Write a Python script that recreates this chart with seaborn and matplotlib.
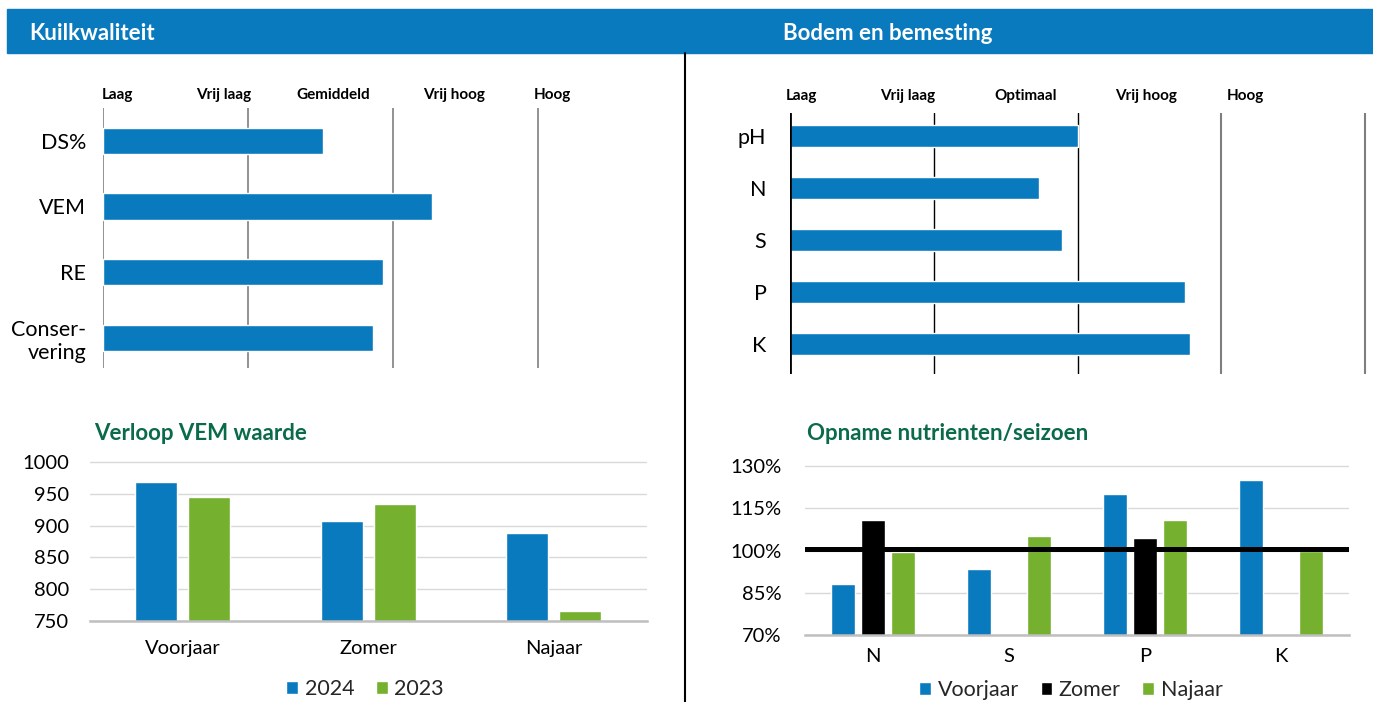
import numpy as np
import pandas as pd
import matplotlib
matplotlib.use("Agg")
import matplotlib.pyplot as plt
import matplotlib.transforms as mtransforms
from matplotlib.patches import Rectangle
from matplotlib.lines import Line2D
import seaborn as sns

# Kuilkwaliteit (score op klassenschaal, 0 = Laag ... 3 = Vrij hoog)
kuil_labels = ["DS%", "VEM", "RE", "Conser-\nvering"]
kuil_scores = [1.52, 2.27, 1.93, 1.86]
kuil_klassen = ["Laag", "Vrij laag", "Gemiddeld", "Vrij hoog", "Hoog"]

# Bodem en bemesting
bodem_labels = ["pH", "N", "S", "P", "K"]
bodem_scores = [2.0, 1.73, 1.89, 2.75, 2.78]
bodem_klassen = ["Laag", "Vrij laag", "Optimaal", "Vrij hoog", "Hoog"]

# Verloop VEM waarde
seizoenen = ["Voorjaar", "Zomer", "Najaar"]
jaren = ["2024", "2023"]
vem_2024 = [968, 907, 889]
vem_2023 = [945, 934, 765]
vem_ticks = [750, 800, 850, 900, 950, 1000]

# Opname nutrienten/seizoen (%)
nutrienten = ["N", "S", "P", "K"]
opname_seizoenen = ["Voorjaar", "Zomer", "Najaar"]
opname_voorjaar = [88.2, 93.5, 119.9, 125.0]
opname_zomer = [110.7, np.nan, 104.4, np.nan]
opname_najaar = [99.4, 105.1, 110.7, 100.0]
opname_norm = 100.5
opname_ticks = [70, 85, 100, 115, 130]

BLAUW = "#0A7ABF"
GROEN = "#76B02F"
DONKERGROEN = "#0B6A4B"
GRIJS = "#7F7F7F"

sns.set_theme(style="white")
plt.rcParams["font.family"] = ["Lato", "DejaVu Sans"]

W, H = 1373, 702
fig = plt.figure(figsize=(W / 100, H / 100), dpi=100)


def px_axes(left, top, right, bottom):
    # assen plaatsen in pixels van de afbeelding
    return fig.add_axes([left / W, 1 - bottom / H, (right - left) / W, (bottom - top) / H])


def klassen_boven(ax, klassen, posities, y_px):
    trans = mtransforms.blended_transform_factory(ax.transData, fig.transFigure)
    for k, p in zip(klassen, posities):
        ax.text(p, 1 - y_px / H, k, transform=trans, ha="center", va="center",
                fontsize=11, fontweight="bold", color="black")


# kopbalk
fig.add_artist(Rectangle((7 / W, 1 - 53 / H), (W - 7) / W, 44 / H,
                         transform=fig.transFigure, color=BLAUW, zorder=0))
fig.text(29 / W, 1 - 33 / H, "Kuilkwaliteit", color="white", fontsize=16,
         fontweight="bold", va="center", ha="left")
fig.text(783 / W, 1 - 33 / H, "Bodem en bemesting", color="white", fontsize=16,
         fontweight="bold", va="center", ha="left")
fig.add_artist(Line2D([685 / W, 685 / W], [0, 1 - 53 / H], color="black", lw=1.5))

# --- Kuilkwaliteit ---
ax1 = px_axes(103, 108, 103 + 3.5 * 145, 368)
for i in range(4):
    ax1.axvline(i, color=GRIJS, lw=1.2, zorder=0)
sns.barplot(x=kuil_scores, y=kuil_labels, orient="h", color=BLAUW, saturation=1,
            width=0.4, ax=ax1)
ax1.set_xlim(0, 3.5)
ax1.set_ylim(3.46, -0.5)
ax1.set_xticks([])
ax1.set_xlabel("")
ax1.set_ylabel("")
for s in ax1.spines.values():
    s.set_visible(False)
ax1.tick_params(axis="y", length=0, pad=12, labelsize=15.5, labelcolor="black")
klassen_boven(ax1, kuil_klassen, [0.1, 0.83, 1.59, 2.42, 3.1], 95)

# --- Bodem en bemesting ---
ax2 = px_axes(790, 113, 790 + 4.03 * 143.75, 374)
lijn_kleur = ["black", "black", "black", GRIJS, GRIJS]
lijn_dikte = [2.0, 1.0, 1.0, 1.5, 1.5]
lijn_z = [3, 0, 0, 0, 0]
for i in range(5):
    ax2.axvline(i, color=lijn_kleur[i], lw=lijn_dikte[i], zorder=lijn_z[i])
sns.barplot(x=bodem_scores, y=bodem_labels, orient="h", color=BLAUW, saturation=1,
            width=0.42, ax=ax2)
ax2.set_xlim(0, 4.03)
ax2.set_ylim(4.57, -0.44)
ax2.set_xticks([])
ax2.set_xlabel("")
ax2.set_ylabel("")
for s in ax2.spines.values():
    s.set_visible(False)
ax2.tick_params(axis="y", length=0, pad=17, labelsize=15.5, labelcolor="black")
klassen_boven(ax2, bodem_klassen, [0.08, 0.82, 1.64, 2.48, 3.17], 96)

# --- Verloop VEM waarde ---
vem_df = pd.DataFrame({
    "Seizoen": seizoenen * 2,
    "Jaar": [jaren[0]] * 3 + [jaren[1]] * 3,
    "VEM": vem_2024 + vem_2023,
})
ax3 = px_axes(89.6, 460.1, 646.7, 621)
sns.barplot(data=vem_df, x="Seizoen", y="VEM", hue="Jaar", hue_order=jaren,
            palette=[BLAUW, GROEN], saturation=1, width=0.57, gap=0.21,
            errorbar=None, ax=ax3)
ax3.set_ylim(750, 1003)
ax3.set_xlim(-0.5, 2.5)
ax3.set_yticks(vem_ticks)
ax3.grid(axis="y", color="#D9D9D9", lw=1)
ax3.set_axisbelow(True)
for s in ["top", "left", "right"]:
    ax3.spines[s].set_visible(False)
ax3.spines["bottom"].set_color("#BFBFBF")
ax3.spines["bottom"].set_linewidth(1.8)
ax3.set_xlabel("")
ax3.set_ylabel("")
ax3.tick_params(axis="y", length=0, pad=15, labelsize=14.5, labelcolor="black")
ax3.tick_params(axis="x", length=0, pad=14, labelsize=14.5, labelcolor="black")
h3, l3 = ax3.get_legend_handles_labels()
ax3.get_legend().remove()
fig.legend(h3, l3, loc="center", bbox_to_anchor=(365 / W, 1 - 689 / H), ncol=2,
           frameon=False, fontsize=15.5, handlelength=0.55, handleheight=0.55,
           handletextpad=0.3, columnspacing=1.0)
fig.text(94 / W, 1 - 434 / H, "Verloop VEM waarde", color=DONKERGROEN, fontsize=16,
         fontweight="bold", va="center", ha="left")

# --- Opname nutrienten/seizoen ---
opname_df = pd.DataFrame({
    "Nutrient": nutrienten * 3,
    "Seizoen": [opname_seizoenen[0]] * 4 + [opname_seizoenen[1]] * 4 + [opname_seizoenen[2]] * 4,
    "Opname": opname_voorjaar + opname_zomer + opname_najaar,
})
ax4 = px_axes(805, 464.6, 1349, 635)
sns.barplot(data=opname_df, x="Nutrient", y="Opname", hue="Seizoen",
            hue_order=opname_seizoenen, palette=[BLAUW, "black", GROEN], saturation=1,
            width=0.66, gap=0.2, errorbar=None, ax=ax4)
ax4.axhline(opname_norm, color="black", lw=3.6, zorder=5)
ax4.set_ylim(70, 130.5)
ax4.set_xlim(-0.5, 3.5)
ax4.set_yticks(opname_ticks)
ax4.set_yticklabels([f"{t}%" for t in opname_ticks])
ax4.grid(axis="y", color="#D9D9D9", lw=1)
ax4.set_axisbelow(True)
for s in ["top", "left", "right"]:
    ax4.spines[s].set_visible(False)
ax4.spines["bottom"].set_color("#BFBFBF")
ax4.spines["bottom"].set_linewidth(1.8)
ax4.set_xlabel("")
ax4.set_ylabel("")
ax4.tick_params(axis="y", length=0, pad=17, labelsize=14.5, labelcolor="black")
ax4.tick_params(axis="x", length=0, pad=9, labelsize=14.5, labelcolor="black")
h4, l4 = ax4.get_legend_handles_labels()
ax4.get_legend().remove()
fig.legend(h4, l4, loc="center", bbox_to_anchor=(1071 / W, 1 - 690 / H), ncol=3,
           frameon=False, fontsize=15.5, handlelength=0.55, handleheight=0.55,
           handletextpad=0.3, columnspacing=1.0)
fig.text(807 / W, 1 - 434 / H, "Opname nutrienten/seizoen", color=DONKERGROEN,
         fontsize=16, fontweight="bold", va="center", ha="left")

fig.savefig("out.png", dpi=100)
